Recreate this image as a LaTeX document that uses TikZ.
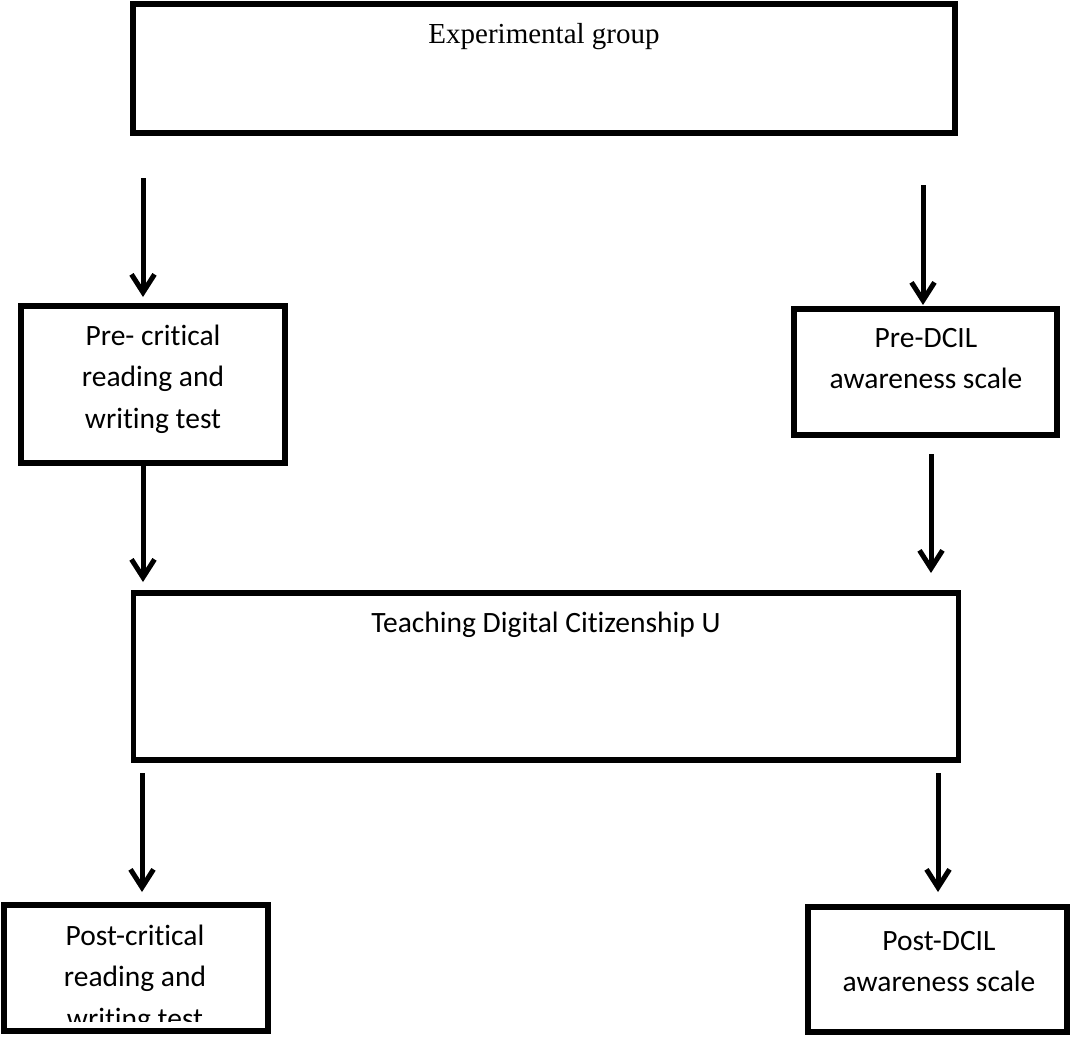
\documentclass[tikz,border=0pt]{standalone}
\usepackage{fontspec}
\setmainfont{Liberation Serif}
\newfontfamily\calfont{Carlito}[Ligatures=NoCommon]
\usetikzlibrary{arrows.meta}
\begin{document}
\begin{tikzpicture}[x=1pt,y=-1pt,
  box/.style={draw=black, line width=5.5pt, rectangle, inner sep=0pt, outer sep=0pt},
  lbl/.style={anchor=base, inner sep=0pt, align=flush center, text width=#1, font=\calfont\fontsize{29.5}{41.5}\selectfont},
  serlbl/.style={anchor=base, inner sep=0pt, font=\rmfamily\fontsize{29}{34}\selectfont},
  arr/.style={line width=5pt, -{Straight Barb[length=18pt,width=23pt]}}]
\path[use as bounding box] (0,0) rectangle (1073,1036);

% boxes
\node[box, minimum width=822pt, minimum height=129pt] (exp) at (544,68.5) {};
\node[box, minimum width=264pt, minimum height=157pt] (prew) at (153,384.5) {};
\node[box, minimum width=263pt, minimum height=126pt] (pred) at (925.5,372) {};
\node[box, minimum width=825pt, minimum height=167pt] (teach) at (546,676.5) {};
\node[box, minimum width=264pt, minimum height=126pt] (postw) at (136,968) {};
\node[box, minimum width=259pt, minimum height=125pt] (postd) at (937.5,969.5) {};

% texts
\node[serlbl] (expt) at (544,43) {Experimental group};
\node[lbl=260pt] (prewt) at (153,345) {Pre- critical\\reading and\\writing test};
\node[lbl=260pt] (predt) at (926,347) {Pre-DCIL\\awareness scale};
\node[lbl=700pt] (teacht) at (546,632) {Teaching Digital Citizenship U};
\begin{scope}
\clip (0,895) rectangle (1073,1021);
\node[lbl=260pt] (postwt) at (135,945) {Post-critical\\reading and\\writing test};
\end{scope}
\node[lbl=260pt] (postdt) at (939,950) {Post-DCIL\\awareness scale};

% connector ends
\coordinate (a1s) at (143,178); \coordinate (a1e) at (143,297);
\coordinate (a2s) at (923,185); \coordinate (a2e) at (923,305);
\coordinate (a3s) at (143,463); \coordinate (a3e) at (143,582);
\coordinate (a4s) at (931,454); \coordinate (a4e) at (931,573);
\coordinate (a5s) at (142,773); \coordinate (a5e) at (142,892);
\coordinate (a6s) at (938,773); \coordinate (a6e) at (938,892);

\draw[arr] (a1s) -- (a1e);
\draw[arr] (a2s) -- (a2e);
\draw[arr] (a3s) -- (a3e);
\draw[arr] (a4s) -- (a4e);
\draw[arr] (a5s) -- (a5e);
\draw[arr] (a6s) -- (a6e);
\end{tikzpicture}
\end{document}
